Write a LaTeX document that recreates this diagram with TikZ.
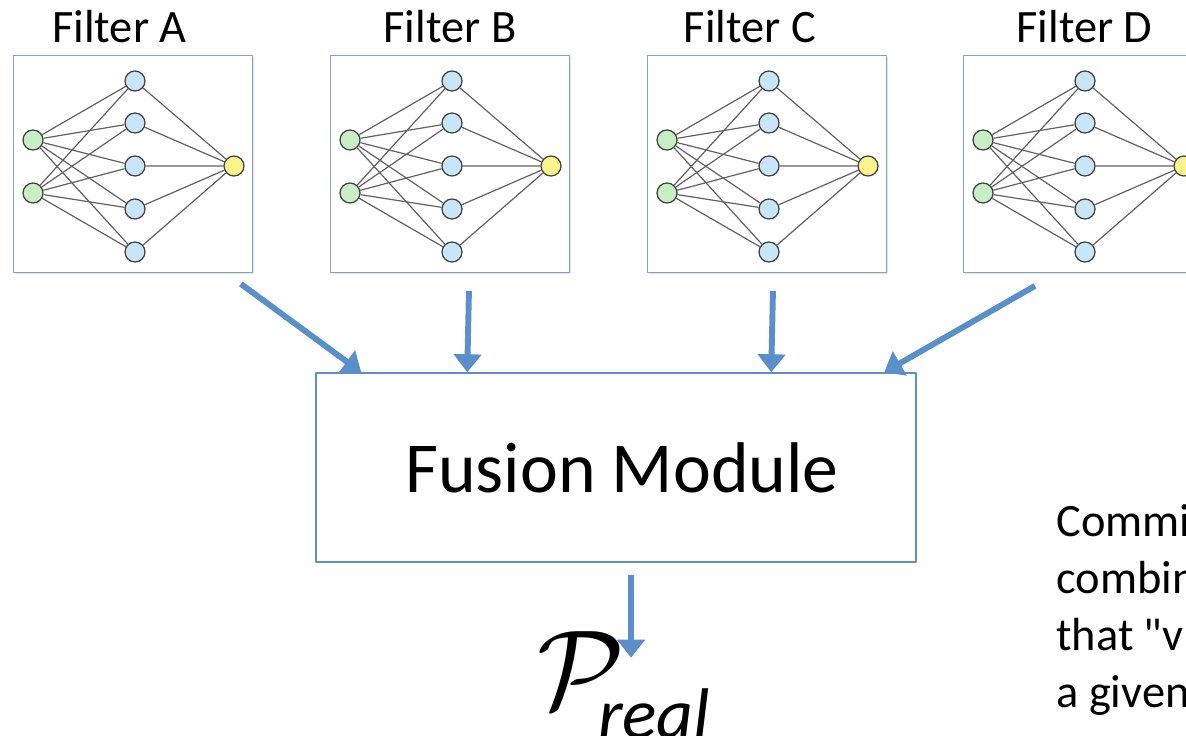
\documentclass[tikz,border=0pt]{standalone}
\usepackage{fontspec}
\setmainfont{Carlito}[Ligatures=TeXOff]
\usetikzlibrary{arrows.meta,shadows,calc}

\definecolor{flowblue}{RGB}{91,143,201}
\definecolor{frameblue}{RGB}{135,160,198}
\definecolor{ingreen}{RGB}{200,238,196}
\definecolor{hidblue}{RGB}{200,230,248}
\definecolor{outyellow}{RGB}{250,244,140}

\tikzset{
  fbox/.style={draw=frameblue, line width=0.6pt, fill=white, minimum width=5.975cm, minimum height=5.425cm, inner sep=0pt,
    drop shadow={shadow xshift=0.8pt, shadow yshift=-1.2pt, opacity=0.2}},
  neuron/.style={circle, draw=black!75, line width=0.9pt, minimum size=0.5cm, inner sep=0pt},
  edge/.style={draw=black!62, line width=0.85pt},
  flow/.style={draw=flowblue, line width=4.2pt, -{Triangle[length=0.45cm,width=0.68cm]}, shorten >=0pt}
}

\begin{document}
\begin{tikzpicture}[x=0.025cm, y=-0.025cm, font=\fontsize{33pt}{38pt}\selectfont, line join=round]
\useasboundingbox (0,0) rectangle (1186,736);

% filters
\foreach \f/\ox/\lx in {A/13/119.5, B/330/450, C/647/750, D/963/1084.5}{
  \node[fbox, anchor=north west] (box\f) at (\ox,55) {};
  \node[anchor=base, inner sep=0pt] (lab\f) at (\lx,43) {Filter \f};
  \node[neuron, fill=ingreen] (in\f1) at (\ox+20,140) {};
  \node[neuron, fill=ingreen] (in\f2) at (\ox+20,193) {};
  \node[neuron, fill=outyellow] (out\f) at (\ox+221,166) {};
  \foreach \k/\hy in {1/81, 2/123, 3/166, 4/209, 5/252}{
    \node[neuron, fill=hidblue] (hid\f\k) at (\ox+122,\hy) {};
    \draw[edge] (in\f1) -- (hid\f\k) (in\f2) -- (hid\f\k) (hid\f\k) -- (out\f);
  }
}

% fusion
\node[draw=flowblue, line width=1pt, minimum width=15cm, minimum height=4.725cm, inner sep=0pt,
  font=\fontsize{51pt}{60pt}\selectfont] (fusion) at (616,467.5) {\hspace*{0.3cm}Fusion Module};

\draw[flow] ($(boxA.south east)+(-12,11)$) -- ($(fusion.north west)+(46,0)$);
\draw[flow] ($(boxB.south)+(19,18)$) -- ($(fusion.north west)+(152,0)$);
\draw[flow] ($(boxC.south)+(6,18)$) -- ($(fusion.north west)+(456,0)$);
\draw[flow] ($(boxD.south west)+(72,13)$) -- ($(fusion.north west)+(569,0)$);

% output
\node[anchor=base west, inner sep=0pt] (preal) at (537,708)
  {\scalebox{8}{\normalsize$\mathcal{P}$}\kern-19pt\raisebox{-0.75cm}{\fontsize{51pt}{51pt}\selectfont\itshape real}};
\draw[flow] ($(fusion.south)+(15,12)$) -- ($(fusion.south)+(15,95)$);

% side note
\node[anchor=base west, inner sep=0pt, align=left, font=\fontsize{33pt}{40.3pt}\selectfont] (note) at (1056,707)
  {Commi\\combin\\that "v\\a given};
\end{tikzpicture}
\end{document}
